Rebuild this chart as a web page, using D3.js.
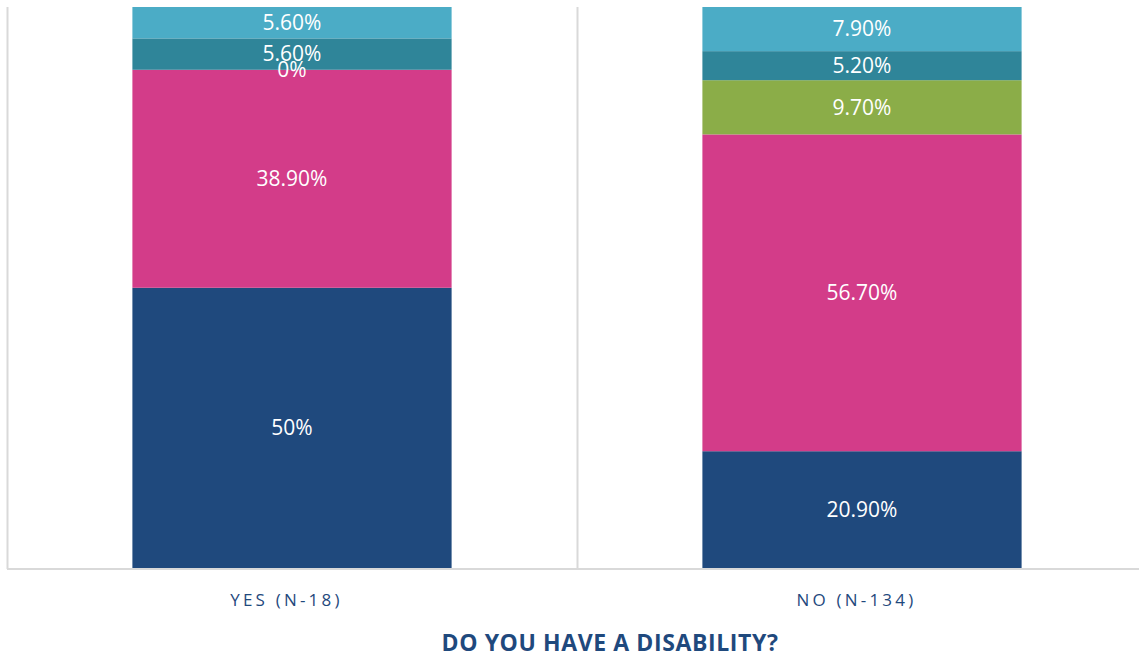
<!DOCTYPE html>
<html>
<head>
<meta charset="utf-8">
<script src="https://cdn.jsdelivr.net/npm/d3@7"></script>
<style>
  html, body { margin: 0; padding: 0; background: #fff; }
  svg { display: block; }
</style>
</head>
<body>
<svg id="chart" width="1139" height="657"></svg>
<script>
// ---- Data ----
const categories = ["YES (N-18)", "NO (N-134)"];
const seriesKeys = ["s1", "s2", "s3", "s4", "s5"]; // bottom to top
const s1 = [50.0, 20.9];
const s2 = [38.9, 56.7];
const s3 = [0.0, 9.7];
const s4 = [5.6, 5.2];
const s5 = [5.6, 7.9];
const labels1 = ["50%", "20.90%"];
const labels2 = ["38.90%", "56.70%"];
const labels3 = ["0%", "9.70%"];
const labels4 = ["5.60%", "5.20%"];
const labels5 = ["5.60%", "7.90%"];
const seriesColors = ["#1F497D", "#D33C89", "#8BAD48", "#2F8599", "#4BACC6"];
const title = "DO YOU HAVE A DISABILITY?";

const seriesValues = [s1, s2, s3, s4, s5];
const seriesLabels = [labels1, labels2, labels3, labels4, labels5];
const rows = categories.map((c, i) => {
  const r = { cat: c };
  seriesKeys.forEach((k, j) => r[k] = seriesValues[j][i]);
  return r;
});

// ---- Layout ----
const svg = d3.select("#chart");
const plotLeft = 7, plotRight = 1147, plotTop = 7, plotBottom = 568;

const x = d3.scaleBand().domain(categories).range([plotLeft, plotRight]).padding(0);
const barW = x.bandwidth() * 0.56;
const y = d3.scaleLinear().domain([0, 1]).range([plotBottom, plotTop]);

const stack = d3.stack().keys(seriesKeys).offset(d3.stackOffsetExpand);
const stacked = stack(rows);

const gridColor = "#D9D9D9";

// vertical divider lines (category boundaries)
const bounds = [plotLeft].concat(categories.slice(1).map(c => x(c)));
svg.append("g").selectAll("line").data(bounds).join("line")
  .attr("x1", d => d + 0.5).attr("x2", d => d + 0.5)
  .attr("y1", plotTop).attr("y2", plotBottom + 1)
  .attr("stroke", gridColor).attr("stroke-width", 2);

// bars
const gBars = svg.append("g");
stacked.forEach((layer, j) => {
  gBars.append("g").attr("fill", seriesColors[j])
    .selectAll("rect").data(layer).join("rect")
    .attr("x", d => x(d.data.cat) + (x.bandwidth() - barW) / 2)
    .attr("width", barW)
    .attr("y", d => y(d[1]))
    .attr("height", d => Math.max(0, y(d[0]) - y(d[1])));
});

// bottom axis line
svg.append("line")
  .attr("x1", plotLeft).attr("x2", 1139)
  .attr("y1", plotBottom + 1).attr("y2", plotBottom + 1)
  .attr("stroke", gridColor).attr("stroke-width", 2);

// data labels
const gLab = svg.append("g")
  .attr("font-family", "'Open Sans', sans-serif")
  .attr("font-size", 21)
  .attr("fill", "#FFFFFF")
  .attr("text-anchor", "middle");
stacked.forEach((layer, j) => {
  gLab.append("g").selectAll("text").data(layer).join("text")
    .attr("x", d => x(d.data.cat) + x.bandwidth() / 2)
    .attr("y", d => (y(d[0]) + y(d[1])) / 2)
    .attr("dy", "0.35em")
    .text((d, i) => seriesLabels[j][i]);
});

// category axis labels
const ls = 3.2;
const xAxis = d3.axisBottom(x).tickSize(0).tickPadding(0);
const gx = svg.append("g").attr("transform", `translate(0, 600)`).call(xAxis);
gx.select(".domain").remove();
gx.selectAll("text")
  .attr("font-family", "'Open Sans', sans-serif")
  .attr("font-size", 17)
  .attr("fill", "#1F497D")
  .attr("letter-spacing", ls + "px")
  .attr("x", -ls / 2 - 4)
  .attr("dy", "0.35em");

// title
svg.append("text")
  .attr("x", 610).attr("y", 651)
  .attr("text-anchor", "middle")
  .attr("font-family", "'Open Sans', sans-serif")
  .attr("font-weight", "bold")
  .attr("font-size", 23)
  .attr("letter-spacing", "0.6px")
  .attr("fill", "#1F497D")
  .text(title);
</script>
</body>
</html>
